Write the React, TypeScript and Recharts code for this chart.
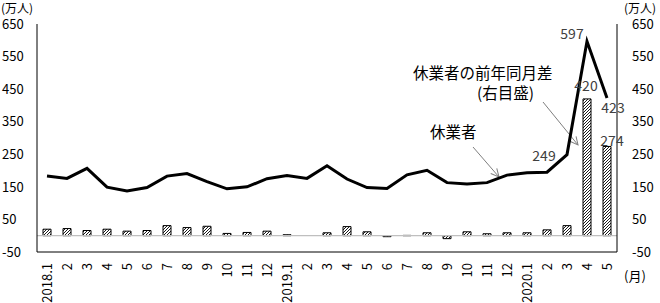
import React from "react";
import {
  ComposedChart,
  Line,
  Bar,
  XAxis,
  YAxis,
  ReferenceLine,
  LabelList,
  Customized,
} from "recharts";

const monthKeys = [
  "2018.1", "2018.2", "2018.3", "2018.4", "2018.5", "2018.6", "2018.7", "2018.8", "2018.9", "2018.10", "2018.11", "2018.12",
  "2019.1", "2019.2", "2019.3", "2019.4", "2019.5", "2019.6", "2019.7", "2019.8", "2019.9", "2019.10", "2019.11", "2019.12",
  "2020.1", "2020.2", "2020.3", "2020.4", "2020.5",
];

const tickLabels = [
  "2018.1", "2", "3", "4", "5", "6", "7", "8", "9", "10", "11", "12",
  "2019.1", "2", "3", "4", "5", "6", "7", "8", "9", "10", "11", "12",
  "2020.1", "2", "3", "4", "5",
];

// 休業者 (万人)
const workersOnLeave = [
  183, 176, 207, 149, 137, 148, 183, 191, 166, 144, 150, 175,
  185, 176, 215, 174, 148, 145, 187, 201, 163, 159, 163, 186,
  193, 195, 249, 597, 423,
];

// 休業者の前年同月差 (万人)
const yoyDiff = [
  20, 22, 16, 20, 14, 16, 31, 25, 29, 7, 10, 14,
  3, 0, 9, 28, 12, -3, 1, 9, -9, 12, 6, 9,
  9, 18, 31, 420, 274,
];

const yTicks = [-50, 50, 150, 250, 350, 450, 550, 650];

const data = monthKeys.map((k, i) => ({
  key: k,
  leave: workersOnLeave[i],
  diff: yoyDiff[i],
}));

const FONT = '"Noto Sans CJK JP", "Noto Sans", sans-serif';
const LABEL_COLOR = "#404040";

// label offsets (layout only), keyed by index
const lineLabelOffsets: Record<number, [number, number]> = {
  26: [-23, 1],
  27: [-15, -7],
  28: [6, 10],
};
const barLabelOffsets: Record<number, [number, number]> = {
  26: [-1, -13],
  27: [5, -6],
  28: [-2, -8],
};

const LineLabel = (props: any) => {
  const { x, y, value, index } = props;
  const off = lineLabelOffsets[index];
  if (!off) return null;
  return (
    <text
      x={x + off[0]}
      y={y + off[1]}
      dy="0.36em"
      textAnchor="middle"
      fill={LABEL_COLOR}
      fontSize={14}
      fontFamily={FONT}
    >
      {value}
    </text>
  );
};

const BarLabel = (props: any) => {
  const { x, y, width, value, index } = props;
  const off = barLabelOffsets[index];
  if (!off) return null;
  return (
    <text
      x={x + width / 2 + off[0]}
      y={y + off[1]}
      dy="0.36em"
      textAnchor="middle"
      fill={LABEL_COLOR}
      fontSize={14}
      fontFamily={FONT}
    >
      {value}
    </text>
  );
};

const LeftTick = (props: any) => {
  const { y, payload } = props;
  return (
    <text x={2} y={y} dy="0.36em" textAnchor="start" fontSize={13} fontFamily={FONT} fill="#000">
      {payload.value}
    </text>
  );
};

const RightTick = (props: any) => {
  const { y, payload } = props;
  return (
    <text x={632} y={y} dy="0.36em" textAnchor="start" fontSize={13} fontFamily={FONT} fill="#000">
      {payload.value}
    </text>
  );
};

const XTick = (props: any) => {
  const { x, payload } = props;
  const label = tickLabels[payload.index] ?? payload.value;
  const ty = 263;
  return (
    <text
      x={x}
      y={ty}
      dy="0.36em"
      textAnchor="end"
      transform={`rotate(-90, ${x}, ${ty})`}
      fontSize={13}
      fontFamily={FONT}
      fill="#000"
    >
      {label}
    </text>
  );
};

const Annotations = () => (
  <g fontFamily={FONT}>
    <defs>
      <marker id="arrowHead" markerWidth="10" markerHeight="10" refX="9" refY="5" orient="auto" markerUnits="userSpaceOnUse">
        <path d="M1,1 L9,5 L1,9" fill="none" stroke="#7f7f7f" strokeWidth="1" />
      </marker>
    </defs>
    <text x={1} y={8.5} dy="0.36em" fontSize={12} fill="#000">(万人)</text>
    <text x={624} y={8.5} dy="0.36em" fontSize={12} fill="#000">(万人)</text>
    <text x={624} y={276} dy="0.36em" fontSize={13} fill="#000">(月)</text>
    <text x={413} y={73.5} dy="0.36em" fontSize={15.5} fill="#000">休業者の前年同月差</text>
    <text x={477} y={93} dy="0.36em" fontSize={15.5} fill="#000">(右目盛)</text>
    <text x={430} y={132} dy="0.36em" fontSize={15.5} fill="#000">休業者</text>
    <line x1={473} y1={147} x2={499} y2={177} stroke="#7f7f7f" strokeWidth={1} markerEnd="url(#arrowHead)" />
    <line x1={543} y1={102} x2={578} y2={145} stroke="#7f7f7f" strokeWidth={1} markerEnd="url(#arrowHead)" />
  </g>
);

export default function App() {
  return (
    <div style={{ position: "absolute", left: 0, top: 0, background: "#fff" }}>
      <ComposedChart
        width={660}
        height={303}
        data={data}
        margin={{ top: 24, right: 0, left: 0, bottom: 0 }}
      >
        <defs>
          <pattern id="hatch" patternUnits="userSpaceOnUse" width="3" height="3">
            <path d="M-1,1 L1,-1 M0,3 L3,0 M2,4 L4,2" stroke="#000" strokeWidth="0.9" />
          </pattern>
        </defs>
        <XAxis
          dataKey="key"
          height={51}
          interval={0}
          tickLine={false}
          axisLine={{ stroke: "#000", strokeWidth: 1 }}
          tick={<XTick />}
        />
        <XAxis
          xAxisId="top"
          dataKey="key"
          orientation="top"
          height={0}
          tick={false}
          tickLine={false}
          axisLine={{ stroke: "#000", strokeWidth: 1 }}
        />
        <YAxis
          yAxisId="left"
          width={37}
          domain={[-50, 650]}
          ticks={yTicks}
          interval={0}
          tickLine={false}
          axisLine={{ stroke: "#000", strokeWidth: 1 }}
          tick={<LeftTick />}
        />
        <YAxis
          yAxisId="right"
          orientation="right"
          width={43}
          domain={[-50, 650]}
          ticks={yTicks}
          interval={0}
          tickLine={false}
          axisLine={{ stroke: "#000", strokeWidth: 1 }}
          tick={<RightTick />}
        />
        <ReferenceLine yAxisId="left" y={0} stroke="#bfbfbf" strokeWidth={1.2} />
        <Bar
          yAxisId="right"
          dataKey="diff"
          barSize={8}
          fill="url(#hatch)"
          stroke="#000"
          strokeWidth={1}
          isAnimationActive={false}
        >
          <LabelList dataKey="diff" content={<BarLabel />} />
        </Bar>
        <Line
          yAxisId="left"
          dataKey="leave"
          type="linear"
          stroke="#000"
          strokeWidth={3}
          dot={false}
          activeDot={false}
          isAnimationActive={false}
        >
          <LabelList dataKey="leave" content={<LineLabel />} />
        </Line>
        <Customized component={<Annotations />} />
      </ComposedChart>
    </div>
  );
}
